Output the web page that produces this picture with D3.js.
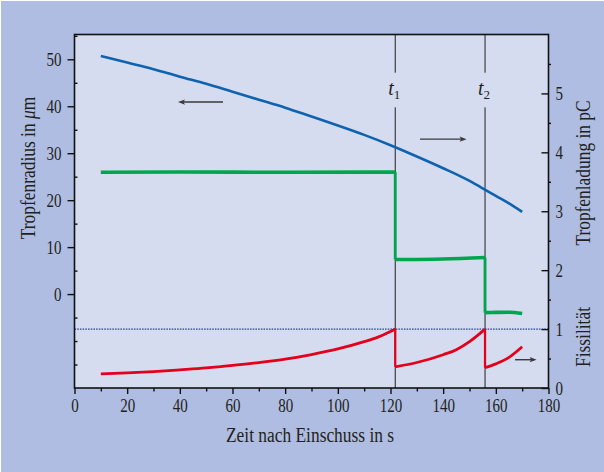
<!DOCTYPE html>
<html>
<head>
<meta charset="utf-8">
<script src="https://cdn.jsdelivr.net/npm/d3@7"></script>
<style>
  body { margin: 0; }
  svg { display: block; }
  text { font-family: "Liberation Serif", "Times New Roman", serif; fill: #231f20; }
</style>
</head>
<body>
<svg width="604" height="472"></svg>
<script>
// ---- data ----
const xTicks = [0, 20, 40, 60, 80, 100, 120, 140, 160, 180];
const xMinor = [10, 30, 50, 70, 90, 110, 130, 150, 170];
const leftTicks = [0, 10, 20, 30, 40, 50];
const leftMinor = [-15, -10, -5, 5, 15, 25, 35, 45, 55];
const rightTicks = [0, 1, 2, 3, 4, 5];
const rightMinor = [0.5, 1.5, 2.5, 3.5, 4.5, 5.5];

// droplet radius (µm, left axis)
const radiusTime = [10, 20, 30, 40, 50, 60, 70, 80, 90, 100, 110, 120, 130, 140, 150, 156, 160, 165, 170];
const radiusValues = [50.7, 49.3, 47.9, 46.3, 44.8, 43.1, 41.4, 39.7, 37.8, 35.9, 33.9, 31.7, 29.3, 26.8, 24.1, 22.2, 20.9, 19.3, 17.5];

// droplet charge (pC, right axis)
const chargeTime = [10, 40, 80, 121.8, 121.8, 140, 155.9, 155.9, 160, 165, 170];
const chargeValues = [3.663, 3.665, 3.662, 3.664, 2.18, 2.19, 2.215, 1.28, 1.283, 1.285, 1.265];

// fissility (right axis, 0..1)
const fissTime = [10, 20, 30, 40, 50, 60, 70, 80, 90, 100, 110, 115, 120, 121.8, 121.8, 130, 140, 145, 150, 155.9, 155.9, 160, 165, 170];
const fissValues = [0.24, 0.256, 0.279, 0.309, 0.341, 0.383, 0.432, 0.49, 0.568, 0.663, 0.787, 0.86, 0.96, 1.0, 0.36, 0.433, 0.565, 0.65, 0.787, 1.0, 0.345, 0.41, 0.52, 0.7];

const eventTimes = [121.8, 155.9];
const eventLabels = ["1", "2"];

// ---- layout ----
const svg = d3.select("svg");
const plotLeft = 74.5, plotRight = 548.5, plotTop = 34.5, plotBottom = 388;
const ink = "#231f20";

const x = d3.scaleLinear().domain([0, 180]).range([plotLeft, plotRight]);
const yL = d3.scaleLinear().domain([-20, 50]).range([plotBottom, 59.3]);
const yR = d3.scaleLinear().domain([0, 6]).range([plotBottom, plotTop]);

// squeeze serif glyphs horizontally to look like the condensed face
function condense(sel, k) {
  sel.each(function () {
    const t = d3.select(this);
    const x0 = +t.attr("x") || 0;
    t.attr("x", x0 / k).attr("transform", "scale(" + k + ",1)");
  });
}

svg.append("rect").attr("width", 604).attr("height", 472).attr("fill", "#ffffff");
svg.append("rect").attr("x", 1).attr("y", 1).attr("width", 603).attr("height", 471).attr("fill", "#aebde1");
svg.append("rect")
  .attr("x", plotLeft).attr("y", plotTop)
  .attr("width", plotRight - plotLeft).attr("height", plotBottom - plotTop)
  .attr("fill", "#d5dcef");

// dotted fissility = 1 line
svg.append("line")
  .attr("x1", plotLeft).attr("x2", plotRight)
  .attr("y1", yR(1)).attr("y2", yR(1))
  .attr("stroke", "#2746a0").attr("stroke-width", 1.4)
  .attr("stroke-dasharray", "1.6,1.1");

// event lines t1, t2 with a gap for the label
eventTimes.forEach(function (t, i) {
  const ev = svg.append("g");
  ev.append("line").attr("x1", x(t)).attr("x2", x(t)).attr("y1", plotTop).attr("y2", 72.7)
    .attr("stroke", ink).attr("stroke-width", 1);
  ev.append("line").attr("x1", x(t)).attr("x2", x(t)).attr("y1", 107.3).attr("y2", plotBottom)
    .attr("stroke", ink).attr("stroke-width", 1);
  const lab = ev.append("text")
    .attr("x", x(t) - 1).attr("y", 95)
    .attr("text-anchor", "middle")
    .style("font-size", "20px");
  lab.append("tspan").style("font-style", "italic").text("t");
  lab.append("tspan").attr("dy", 4).style("font-size", "13px").text(eventLabels[i]);
});

// series, split at the jumps
function segments(ts, vs) {
  const out = [];
  let cur = [];
  ts.forEach(function (t, i) {
    if (i > 0 && t === ts[i - 1]) { out.push(cur); cur = []; }
    cur.push([t, vs[i]]);
  });
  out.push(cur);
  return out;
}

function drawSeries(ts, vs, yScale, color, width) {
  const g = svg.append("g");
  const line = d3.line().x(d => x(d[0])).y(d => yScale(d[1])).curve(d3.curveMonotoneX);
  const segs = segments(ts, vs);
  segs.forEach(function (s, i) {
    g.append("path").attr("d", line(s)).attr("fill", "none")
      .attr("stroke", color).attr("stroke-width", width);
    if (i > 0) {
      const p = segs[i - 1][segs[i - 1].length - 1];
      g.append("line")
        .attr("x1", x(p[0])).attr("x2", x(s[0][0]))
        .attr("y1", yScale(p[1])).attr("y2", yScale(s[0][1]))
        .attr("stroke", color).attr("stroke-width", width * 0.8);
    }
  });
}

drawSeries(radiusTime, radiusValues, yL, "#0f63ae", 2.6);
drawSeries(chargeTime, chargeValues, yR, "#00a54f", 3.6);
drawSeries(fissTime, fissValues, yR, "#e3001b", 2.8);

// direction arrows
function arrow(x1, x2, yy) {
  const dir = x2 > x1 ? 1 : -1;
  svg.append("line").attr("x1", x1).attr("x2", x2 - dir * 4).attr("y1", yy).attr("y2", yy)
    .attr("stroke", "#3a3a3a").attr("stroke-width", 1.4);
  svg.append("path")
    .attr("d", "M" + x2 + "," + yy + "L" + (x2 - dir * 7) + "," + (yy - 2.6) + "L" + (x2 - dir * 5.5) + "," + yy + "L" + (x2 - dir * 7) + "," + (yy + 2.6) + "Z")
    .attr("fill", "#3a3a3a");
}
arrow(x(56.4), x(39.3), yL(40.9));
arrow(x(131.2), x(148.9), yL(33.0));
arrow(x(167.3), x(175.5), yR(0.48));

// frame
svg.append("rect")
  .attr("x", plotLeft).attr("y", plotTop)
  .attr("width", plotRight - plotLeft).attr("height", plotBottom - plotTop)
  .attr("fill", "none").attr("stroke", "#111").attr("stroke-width", 1.6);

// axes
function styleAxis(g) {
  g.select(".domain").remove();
  g.selectAll(".tick line").attr("stroke", "#111").attr("stroke-width", 1.4);
  g.selectAll("text").style("font-size", "19px").attr("fill", ink);
}

svg.append("g").attr("transform", "translate(0," + plotBottom + ")")
  .call(d3.axisBottom(x).tickValues(xTicks).tickSize(6).tickPadding(5).tickFormat(d3.format("d")))
  .call(styleAxis)
  .call(g => condense(g.selectAll("text"), 0.79));
svg.append("g").attr("transform", "translate(0," + plotBottom + ")")
  .call(d3.axisBottom(x).tickValues(xMinor).tickSize(3.5).tickFormat(""))
  .call(styleAxis);

svg.append("g").attr("transform", "translate(" + plotLeft + ",0)")
  .call(d3.axisLeft(yL).tickValues(leftTicks).tickSize(7).tickPadding(6).tickFormat(d3.format("d")))
  .call(styleAxis)
  .call(g => condense(g.selectAll("text"), 0.79));
svg.append("g").attr("transform", "translate(" + plotLeft + ",0)")
  .call(d3.axisLeft(yL).tickValues(leftMinor).tickSize(-3).tickFormat(""))
  .call(styleAxis);

svg.append("g").attr("transform", "translate(" + plotRight + ",0)")
  .call(d3.axisRight(yR).tickValues(rightTicks).tickSize(-7).tickPadding(7).tickFormat(d3.format("d")))
  .call(styleAxis)
  .call(g => condense(g.selectAll("text"), 0.79));
svg.append("g").attr("transform", "translate(" + plotRight + ",0)")
  .call(d3.axisRight(yR).tickValues(rightMinor).tickSize(2.5).tickFormat(""))
  .call(styleAxis);

// axis titles
svg.append("text")
  .attr("x", 310 / 0.87).attr("y", 442)
  .attr("text-anchor", "middle")
  .attr("transform", "scale(0.87,1)")
  .style("font-size", "20px")
  .text("Zeit nach Einschuss in s");

const yTitle = svg.append("text")
  .attr("transform", "translate(35,168) rotate(-90) scale(0.87,1)")
  .attr("text-anchor", "middle")
  .style("font-size", "20px");
yTitle.append("tspan").text("Tropfenradius in ");
yTitle.append("tspan").style("font-style", "italic").text("μ");
yTitle.append("tspan").text("m");

svg.append("text")
  .attr("transform", "translate(590,173) rotate(-90) scale(0.87,1)")
  .attr("text-anchor", "middle")
  .style("font-size", "20px")
  .text("Tropfenladung in pC");

svg.append("text")
  .attr("transform", "translate(590,337) rotate(-90) scale(0.87,1)")
  .attr("text-anchor", "middle")
  .style("font-size", "20px")
  .text("Fissilität");
</script>
</body>
</html>
